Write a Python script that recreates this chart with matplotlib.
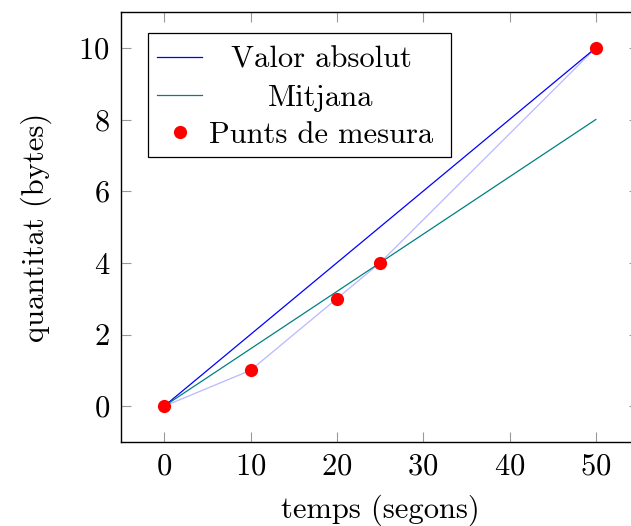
import matplotlib
matplotlib.use("Agg")
import matplotlib.pyplot as plt
from matplotlib.lines import Line2D
from matplotlib.patches import Rectangle

plt.rcParams['font.family'] = 'serif'
plt.rcParams['font.serif'] = ['cmr10']
plt.rcParams['axes.formatter.use_mathtext'] = True

# Data
meas_x = [0, 10, 20, 25, 50]
meas_y = [0, 1, 3, 4, 10]
abs_x = [0, 50]
abs_y = [0, 10]
mean_x = [0, 50]
mean_y = [0, 8]
xticks = [0, 10, 20, 30, 40, 50]
yticks = [0, 2, 4, 6, 8, 10]
labels = ["Valor absolut", "Mitjana", "Punts de mesura"]

W, H = 631, 526
fig = plt.figure(figsize=(W / 100, H / 100), dpi=100)
L, R, T, B = 121, 639, 12, 442
ax = fig.add_axes([L / W, 1 - B / H, (R - L) / W, (B - T) / H])

blue = (0, 0, 1)
teal = (0, 0.5, 0.5)
light = (0.72, 0.72, 1.0)

ax.plot(meas_x, meas_y, color=light, lw=0.9, zorder=2)
ax.plot(abs_x, abs_y, color=blue, lw=0.9, zorder=3)
ax.plot(mean_x, mean_y, color=teal, lw=0.9, zorder=3)
ax.plot(meas_x, meas_y, 'o', color='red', ms=9.5, zorder=4, markeredgewidth=0)

ax.set_xlim(-5, 55)
ax.set_ylim(-1, 11)
ax.set_xticks(xticks)
ax.set_yticks(yticks)
fs = 22
ax.tick_params(direction='in', length=7, width=0.8, color='#999999',
               top=True, right=True, labelsize=fs, pad=8)
for s in ax.spines.values():
    s.set_linewidth(1.0)
ax.set_xlabel("temps (segons)", fontsize=fs, labelpad=10)
ax.set_ylabel("quantitat (bytes)", fontsize=fs, labelpad=19)

# Legend (pgfplots style with centred entries)
x0, x1 = (148 - L) / (R - L), (451 - L) / (R - L)
y0, y1 = (B - 157) / (B - T), (B - 33) / (B - T)
ax.add_patch(Rectangle((x0, y0), x1 - x0, y1 - y0, transform=ax.transAxes,
                       facecolor='white', edgecolor='black', lw=0.9, zorder=5))
rows = [(B - 57) / (B - T), (B - 95) / (B - T), (B - 132) / (B - T)]
hx0, hx1 = (157 - L) / (R - L), (202 - L) / (R - L)
tc = (321 - L) / (R - L)
ax.add_line(Line2D([hx0, hx1], [rows[0]] * 2, color=blue, lw=0.9,
                   transform=ax.transAxes, zorder=6))
ax.add_line(Line2D([hx0, hx1], [rows[1]] * 2, color=teal, lw=0.9,
                   transform=ax.transAxes, zorder=6))
ax.add_line(Line2D([(hx0 + hx1) / 2], [rows[2]], marker='o', color='red',
                   ms=9.5, markeredgewidth=0, ls='none',
                   transform=ax.transAxes, zorder=6))
for lab, ry in zip(labels, rows):
    ax.text(tc, ry, lab, transform=ax.transAxes, ha='center', va='center_baseline',
            fontsize=fs, zorder=6)

fig.savefig("out.png", dpi=100)
